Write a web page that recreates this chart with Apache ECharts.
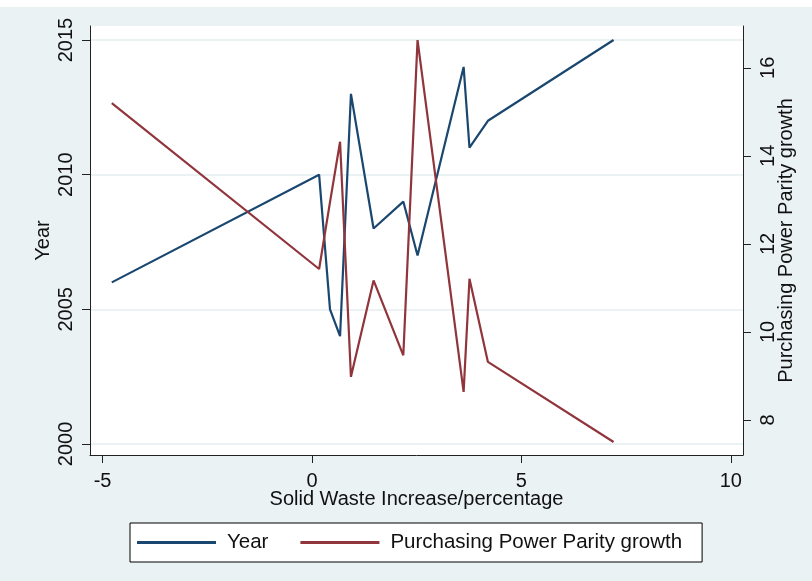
<!DOCTYPE html>
<html>
<head>
<meta charset="utf-8">
<script src="https://cdn.jsdelivr.net/npm/echarts@6/dist/echarts.min.js"></script>
<style>
html,body{margin:0;padding:0;background:#fff}
#main{width:812px;height:581px}
</style>
</head>
<body>
<div id="main"></div>
<script>
// data (sorted by x, as the original plot connects them)
var wasteIncrease = [-4.78, 0.17, 0.43, 0.67, 0.93, 1.47, 2.18, 2.52, 3.62, 3.76, 4.2, 7.2];
var years = [2006, 2010, 2005, 2004, 2013, 2008, 2009, 2007, 2014, 2011, 2012, 2015];
var pppGrowth = [15.2, 11.43, 12.95, 14.32, 8.98, 11.17, 9.47, 16.63, 8.64, 11.21, 9.32, 7.5];

var xTicks = [-5, 0, 5, 10];
var yearTicks = [2000, 2005, 2010, 2015];
var pppTicks = [8, 10, 12, 14, 16];

var font = 'Liberation Sans, Arial, sans-serif';
var ink = '#111';
var bg = '#eaf2f3';

function pairs(xs, ys){
	var out = [];
	for(var i=0; i<xs.length; i++){
		out.push([xs[i], ys[i]]);
	}
	return out;
}

var chart = echarts.init(document.getElementById('main'));
var option = {
	animation: false,
	backgroundColor: bg,
	graphic: [
		{type: 'rect', left: 0, top: 0, shape: {width: 812, height: 7}, style: {fill: '#fff'}, silent: true}
	],
	grid: {
		left: 90, right: 69, top: 26, bottom: 126,
		show: true, backgroundColor: '#fff', borderWidth: 0
	},
	legend: {
		left: 130, top: 523,
		orient: 'horizontal',
		backgroundColor: '#fff',
		borderColor: '#000', borderWidth: 1,
		padding: [9, 20, 9, 7],
		itemWidth: 79, itemHeight: 3, itemGap: 32,
		icon: 'rect',
		textStyle: {fontFamily: font, fontSize: 20.5, color: ink, padding: [0, 0, 0, 6]},
		data: ['Year', 'Purchasing Power Parity growth']
	},
	xAxis: {
		type: 'value',
		min: -5.3, max: 10.29,
		name: 'Solid Waste Increase/percentage',
		nameLocation: 'middle', nameGap: 34, nameMoveOverlap: false,
		nameTextStyle: {fontFamily: font, fontSize: 20, color: ink},
		axisLine: {show: true, onZero: false, lineStyle: {color: '#222', width: 1}},
		axisTick: {show: true, length: 8, customValues: xTicks, lineStyle: {color: '#222'}},
		axisLabel: {customValues: xTicks, margin: 16, fontFamily: font, fontSize: 20, color: ink},
		splitLine: {show: false}
	},
	yAxis: [
		{
			type: 'value', position: 'left',
			min: 1999.59, max: 2015.52,
			name: 'Year',
			nameLocation: 'middle', nameGap: 37, nameMoveOverlap: false,
			nameTextStyle: {fontFamily: font, fontSize: 20, color: ink},
			axisLine: {show: true, onZero: false, lineStyle: {color: '#222', width: 1}},
			axisTick: {show: true, length: 8, customValues: yearTicks, lineStyle: {color: '#222'}},
			axisLabel: {
				customValues: yearTicks, rotate: 90, margin: 14,
				fontFamily: font, fontSize: 20, color: ink,
				formatter: function(v){ return String(v); }
			},
			splitLine: {show: true, lineStyle: {color: bg, width: 2}}
		},
		{
			type: 'value', position: 'right',
			min: 7.205, max: 16.95,
			name: 'Purchasing Power Parity growth',
			nameLocation: 'middle', nameGap: 33, nameMoveOverlap: false,
			nameTextStyle: {fontFamily: font, fontSize: 20, color: ink},
			axisLine: {show: true, onZero: false, lineStyle: {color: '#222', width: 1}},
			axisTick: {show: true, length: 8, customValues: pppTicks, lineStyle: {color: '#222'}},
			axisLabel: {customValues: pppTicks, rotate: 90, margin: 15, fontFamily: font, fontSize: 20, color: ink},
			splitLine: {show: false}
		}
	],
	series: [
		{
			name: 'Year', type: 'line', yAxisIndex: 0,
			showSymbol: false, symbol: 'none',
			color: '#1a476f',
			lineStyle: {color: '#1a476f', width: 2.2},
			data: pairs(wasteIncrease, years)
		},
		{
			name: 'Purchasing Power Parity growth', type: 'line', yAxisIndex: 1,
			showSymbol: false, symbol: 'none',
			color: '#90353b',
			lineStyle: {color: '#90353b', width: 2.2},
			data: pairs(wasteIncrease, pppGrowth)
		}
	]
};
chart.setOption(option);
</script>
</body>
</html>
